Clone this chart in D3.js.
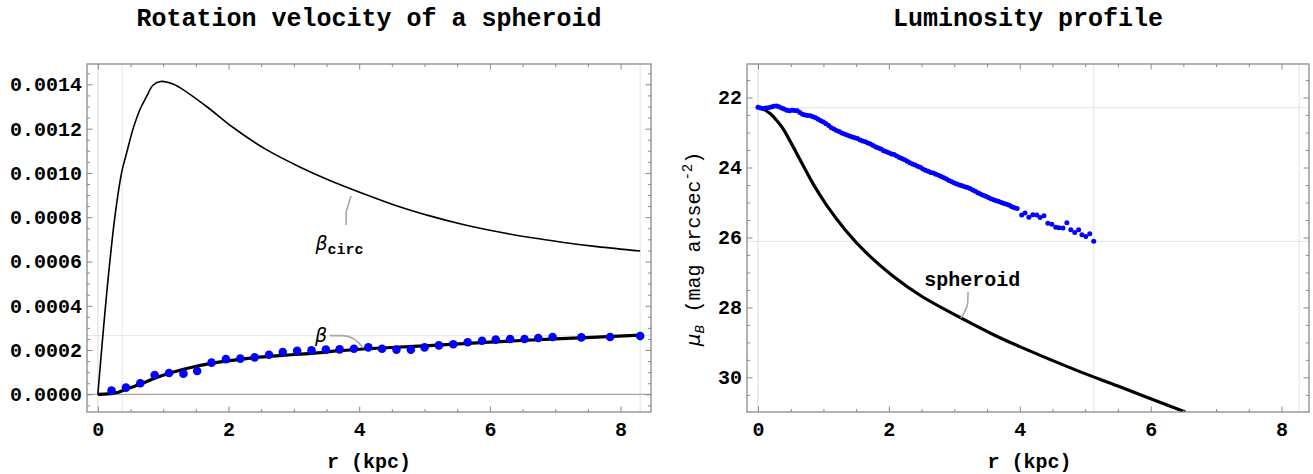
<!DOCTYPE html>
<html>
<head>
<meta charset="utf-8">
<script src="https://cdn.jsdelivr.net/npm/d3@7"></script>
<style>
	body { margin: 0; background: #fff; }
	svg text { font-family: "Courier New", "Liberation Mono", monospace; font-weight: bold; fill: #000; }
</style>
</head>
<body>
<svg id="chart" width="1313" height="474"></svg>
<script>
// ---- left panel: rotation velocity ----
var rotR = [0.21, 0.43, 0.65, 0.87, 1.09, 1.31, 1.52, 1.74, 1.96, 2.18, 2.40, 2.62, 2.83, 3.05, 3.27, 3.49, 3.70, 3.92,
	4.14, 4.35, 4.57, 4.79, 5.00, 5.22, 5.44, 5.66, 5.88, 6.09, 6.31, 6.53, 6.74, 6.96, 7.40, 7.84, 8.30];
var rotBeta = [0.0000166, 0.0000301, 0.0000497, 0.0000873, 0.0000963, 0.0000933, 0.000105, 0.000143, 0.000159,
	0.000161, 0.000167, 0.000179, 0.000191, 0.000197, 0.000199, 0.000202, 0.000203, 0.000206, 0.000212, 0.000206,
	0.000202, 0.000202, 0.000212, 0.000221, 0.000226, 0.000235, 0.000242, 0.000247, 0.000250, 0.000250, 0.000254,
	0.000259, 0.000257, 0.000259, 0.000263];

var circR = [0, 0.09, 0.14, 0.184, 0.26, 0.363, 0.44, 0.54, 0.65, 0.745, 0.84, 0.96, 1.15, 1.256, 1.664, 2.07,
	2.58, 3.09, 3.55, 4.06, 4.57, 5.08, 5.59, 6.1, 6.62, 7.13, 7.64, 8.3];
var circBeta = [0, 0.00031, 0.00047, 0.0006, 0.0008, 0.001, 0.00109, 0.0012, 0.00129, 0.001344, 0.001395,
	0.001413, 0.001402, 0.001385, 0.0013, 0.001205, 0.001105, 0.001027, 0.000966, 0.000907, 0.000852, 0.000806,
	0.000767, 0.000735, 0.000708, 0.000686, 0.000667, 0.000647];

var modelR = [0, 0.1, 0.2, 0.3, 0.434, 0.653, 0.87, 1.09, 1.31, 1.52, 1.74, 1.96, 2.4, 2.83, 3.27, 3.7, 4.2,
	5.0, 6.0, 7.0, 8.3];
var modelBeta = [0, 0.0000005, 0.000003, 0.000008, 0.0000226, 0.0000466, 0.0000722, 0.0000948, 0.000113,
	0.000128, 0.00014, 0.00015, 0.000166, 0.000176, 0.000185, 0.000197, 0.000207, 0.000219, 0.000236, 0.00025,
	0.000267];

var rotXTicks = [0, 2, 4, 6, 8];
var rotYTicks = [0, 0.0002, 0.0004, 0.0006, 0.0008, 0.0010, 0.0012, 0.0014];
var rotGridX = [0.37, 8.3];
var rotGridY = [0.000265];

// ---- right panel: luminosity profile ----
var lumR = [0.00, 0.04, 0.08, 0.12, 0.16, 0.20, 0.24, 0.28, 0.32, 0.36, 0.40, 0.44, 0.48, 0.52, 0.56, 0.60,
	0.64, 0.68, 0.72, 0.76, 0.80, 0.84, 0.88, 0.92, 0.96, 1.00, 1.04, 1.08, 1.12, 1.16, 1.20, 1.24, 1.28, 1.32,
	1.36, 1.40, 1.44, 1.48, 1.52, 1.56, 1.60, 1.64, 1.68, 1.72, 1.76, 1.80, 1.84, 1.88, 1.92, 1.96, 2.00, 2.04,
	2.08, 2.12, 2.16, 2.20, 2.24, 2.28, 2.32, 2.36, 2.40, 2.44, 2.48, 2.52, 2.56, 2.60, 2.64, 2.68, 2.72, 2.76,
	2.80, 2.84, 2.88, 2.92, 2.96, 3.00, 3.04, 3.08, 3.12, 3.16, 3.20, 3.24, 3.28, 3.32, 3.36, 3.40, 3.44, 3.48,
	3.52, 3.56, 3.60, 3.64, 3.68, 3.72, 3.76, 3.80, 3.84, 3.88, 3.92, 3.96,
	4.03, 4.08, 4.14, 4.20, 4.26, 4.31, 4.37, 4.43, 4.49, 4.55, 4.60, 4.66, 4.72, 4.78, 4.84, 4.90, 4.95, 5.01,
	5.07, 5.13];
var lumMu = [22.28, 22.30, 22.31, 22.30, 22.29, 22.27, 22.25, 22.24, 22.26, 22.30, 22.33, 22.36, 22.38, 22.36,
	22.37, 22.38, 22.43, 22.48, 22.50, 22.51, 22.52, 22.55, 22.58, 22.62, 22.66, 22.70, 22.75, 22.80, 22.86,
	22.90, 22.94, 22.97, 23.01, 23.04, 23.07, 23.10, 23.13, 23.15, 23.17, 23.21, 23.24, 23.26, 23.30, 23.33,
	23.37, 23.41, 23.44, 23.47, 23.52, 23.55, 23.58, 23.61, 23.63, 23.67, 23.71, 23.74, 23.78, 23.82, 23.86,
	23.90, 23.93, 23.96, 23.99, 24.04, 24.08, 24.11, 24.14, 24.16, 24.19, 24.22, 24.26, 24.29, 24.33, 24.37,
	24.41, 24.44, 24.47, 24.50, 24.52, 24.55, 24.57, 24.60, 24.64, 24.68, 24.72, 24.76, 24.79, 24.82, 24.86,
	24.89, 24.92, 24.95, 24.97, 25.00, 25.03, 25.05, 25.08, 25.12, 25.15, 25.17,
	25.36, 25.30, 25.42, 25.35, 25.36, 25.43, 25.38, 25.59, 25.62, 25.71, 25.72, 25.73, 25.58, 25.78, 25.86,
	25.78, 25.92, 25.97, 25.89, 26.11];

var sphR = [0, 0.08, 0.18, 0.28, 0.38, 0.48, 0.59, 0.70, 0.84, 1.05, 1.35, 1.66, 2.06, 2.5, 3.1, 3.6, 4.0,
	4.87, 5.5, 6.53];
var sphMu = [22.28, 22.33, 22.45, 22.64, 22.88, 23.21, 23.59, 23.98, 24.46, 25.08, 25.82, 26.45, 27.10, 27.68,
	28.30, 28.78, 29.12, 29.80, 30.25, 30.99];

var lumXTicks = [0, 2, 4, 6, 8];
var lumYTicks = [22, 24, 26, 28, 30];
var lumGridX = [5.13, 8.27];
var lumGridY = [22.29, 26.11];

(function() {
	var FRAME = "#8a8a8a";
	var GRID = "#e4e4e4";
	var svg = d3.select("#chart");

	var rotX = d3.scaleLinear().domain([-0.166, 8.466]).range([87, 651]);
	var rotY = d3.scaleLinear().domain([-0.0000799, 0.0014919]).range([412, 64]);
	var lumX = d3.scaleLinear().domain([-0.168, 8.42]).range([747, 1309]);
	var lumY = d3.scaleLinear().domain([21.04, 30.99]).range([64, 412]);

	function zip(xs, ys) {
		return xs.map(function(v, i) { return [v, ys[i]]; });
	}

	// pixel box of a panel, whichever way the y scale runs
	function box(x, y) {
		var ex = d3.extent(x.range()), ey = d3.extent(y.range());
		return { left: ex[0], right: ex[1], top: ey[0], bottom: ey[1] };
	}

	function clipFor(id, x, y) {
		var b = box(x, y);
		svg.append("clipPath").attr("id", id).append("rect")
			.attr("x", b.left).attr("y", b.top)
			.attr("width", b.right - b.left)
			.attr("height", b.bottom - b.top);
		return svg.append("g").attr("clip-path", "url(#" + id + ")");
	}

	function styleAxis(a) {
		a.attr("font-family", null).attr("font-size", null);
		a.select(".domain").remove();
		a.selectAll("line").attr("stroke", FRAME).attr("stroke-width", 1);
		a.selectAll("text").style("font-size", "20px");
		return a;
	}

	function drawFrame(x, y, xMajor, yMajor, xMinor, yMinor, yFmt) {
		var b = box(x, y);
		var g = svg.append("g");
		var noLabel = function() { return ""; };

		// bottom + top
		styleAxis(g.append("g").attr("transform", "translate(0," + b.bottom + ")")
			.call(d3.axisBottom(x).tickValues(xMajor).tickSize(-5.5).tickPadding(10).tickFormat(d3.format("d"))));
		styleAxis(g.append("g").attr("transform", "translate(0," + b.bottom + ")")
			.call(d3.axisBottom(x).tickValues(xMinor).tickSize(-3).tickFormat(noLabel)));
		styleAxis(g.append("g").attr("transform", "translate(0," + b.top + ")")
			.call(d3.axisTop(x).tickValues(xMajor).tickSize(-5.5).tickFormat(noLabel)));
		styleAxis(g.append("g").attr("transform", "translate(0," + b.top + ")")
			.call(d3.axisTop(x).tickValues(xMinor).tickSize(-3).tickFormat(noLabel)));

		// left + right
		styleAxis(g.append("g").attr("transform", "translate(" + b.left + ",0)")
			.call(d3.axisLeft(y).tickValues(yMajor).tickSize(-5.5).tickPadding(5).tickFormat(yFmt)));
		styleAxis(g.append("g").attr("transform", "translate(" + b.left + ",0)")
			.call(d3.axisLeft(y).tickValues(yMinor).tickSize(-3).tickFormat(noLabel)));
		styleAxis(g.append("g").attr("transform", "translate(" + b.right + ",0)")
			.call(d3.axisRight(y).tickValues(yMajor).tickSize(-5.5).tickFormat(noLabel)));
		styleAxis(g.append("g").attr("transform", "translate(" + b.right + ",0)")
			.call(d3.axisRight(y).tickValues(yMinor).tickSize(-3).tickFormat(noLabel)));

		g.append("rect")
			.attr("x", b.left).attr("y", b.top)
			.attr("width", b.right - b.left).attr("height", b.bottom - b.top)
			.attr("fill", "none").attr("stroke", FRAME).attr("stroke-width", 1.3);
	}

	function drawGrid(g, x, y, gx, gy) {
		var b = box(x, y);
		g.selectAll(null).data(gx).enter().append("line")
			.attr("x1", function(d) { return x(d); }).attr("x2", function(d) { return x(d); })
			.attr("y1", b.top).attr("y2", b.bottom)
			.attr("stroke", GRID).attr("stroke-width", 1);
		g.selectAll(null).data(gy).enter().append("line")
			.attr("y1", function(d) { return y(d); }).attr("y2", function(d) { return y(d); })
			.attr("x1", b.left).attr("x2", b.right)
			.attr("stroke", GRID).attr("stroke-width", 1);
	}

	function halfSteps(lo, hi, step, major) {
		return d3.range(lo, hi + 1e-9, step).filter(function(v) {
			return major.every(function(m) { return Math.abs(m - v) > 1e-9; });
		});
	}

	function callout(g, x, y, pts) {
		var p = pts.map(function(d) { return [x(d[0]), y(d[1])]; });
		var path = "M" + p[0] + "L" + p[1] + "Q" + p[2] + " " + p[3];
		g.append("path").attr("d", path)
			.attr("fill", "none").attr("stroke", "#a8a8a8").attr("stroke-width", 1.6);
	}

	// ============ left panel ============
	var gl = clipFor("clipL", rotX, rotY);
	var bl = box(rotX, rotY);
	drawGrid(gl, rotX, rotY, rotGridX, rotGridY);
	gl.append("line")
		.attr("x1", rotX(0)).attr("x2", rotX(0)).attr("y1", bl.top).attr("y2", bl.bottom)
		.attr("stroke", "#dadada");
	gl.append("line")
		.attr("x1", bl.left).attr("x2", bl.right).attr("y1", rotY(0)).attr("y2", rotY(0))
		.attr("stroke", "#a6a6a6").attr("stroke-width", 1.2);

	var lineRot = d3.line()
		.x(function(d) { return rotX(d[0]); })
		.y(function(d) { return rotY(d[1]); })
		.curve(d3.curveCatmullRom.alpha(0.5));

	gl.append("path").datum(zip(circR, circBeta)).attr("d", lineRot)
		.attr("fill", "none").attr("stroke", "#000").attr("stroke-width", 1.6);
	gl.append("path").datum(zip(modelR, modelBeta)).attr("d", lineRot)
		.attr("fill", "none").attr("stroke", "#000").attr("stroke-width", 3.2);
	gl.selectAll("circle.pt").data(zip(rotR, rotBeta)).enter().append("circle")
		.attr("class", "pt")
		.attr("cx", function(d) { return rotX(d[0]); })
		.attr("cy", function(d) { return rotY(d[1]); })
		.attr("r", 4.3).attr("fill", "#0000ff");

	// labels
	callout(svg, rotX, rotY, [[3.875, 0.000896], [3.80, 0.000824], [3.80, 0.000790], [3.80, 0.000765]]);
	callout(svg, rotX, rotY, [[3.55, 0.000265], [3.75, 0.000265], [3.935, 0.000263], [4.06, 0.000209]]);

	var tc = svg.append("text").attr("x", rotX(3.33)).attr("y", rotY(0.000650));
	tc.append("tspan").text("β")
		.style("font-family", "'DejaVu Sans', sans-serif").style("font-style", "italic")
		.style("font-weight", "normal").style("font-size", "19px");
	tc.append("tspan").text("circ").attr("dy", 4).style("font-size", "15px");

	svg.append("text").attr("x", rotX(3.415)).attr("y", rotY(0.000235)).attr("text-anchor", "middle")
		.text("β")
		.style("font-family", "'DejaVu Sans', sans-serif").style("font-style", "italic")
		.style("font-weight", "normal").style("font-size", "19px");

	drawFrame(rotX, rotY, rotXTicks, rotYTicks,
		halfSteps(0, 8, 0.5, rotXTicks), halfSteps(-0.00005, 0.00145, 0.00005, rotYTicks), d3.format(".4f"));

	svg.append("text").attr("x", 369).attr("y", 26).attr("text-anchor", "middle")
		.style("font-size", "25px").text("Rotation velocity of a spheroid");
	svg.append("text").attr("x", rotX(4.15)).attr("y", 468).attr("text-anchor", "middle")
		.style("font-size", "20px").text("r (kpc)");

	// ============ right panel ============
	var gr = clipFor("clipR", lumX, lumY);
	var br = box(lumX, lumY);
	drawGrid(gr, lumX, lumY, lumGridX, lumGridY);
	gr.append("line")
		.attr("x1", lumX(0)).attr("x2", lumX(0)).attr("y1", br.top).attr("y2", br.bottom)
		.attr("stroke", "#dadada");

	var lineLum = d3.line()
		.x(function(d) { return lumX(d[0]); })
		.y(function(d) { return lumY(d[1]); })
		.curve(d3.curveCatmullRom.alpha(0.5));

	gr.append("path").datum(zip(sphR, sphMu)).attr("d", lineLum)
		.attr("fill", "none").attr("stroke", "#000").attr("stroke-width", 3.2);
	gr.selectAll("circle.pt").data(zip(lumR, lumMu)).enter().append("circle")
		.attr("class", "pt")
		.attr("cx", function(d) { return lumX(d[0]); })
		.attr("cy", function(d) { return lumY(d[1]); })
		.attr("r", 2.5).attr("fill", "#0000ff");

	callout(svg, lumX, lumY, [[3.21, 27.55], [3.205, 27.87], [3.19, 28.07], [3.10, 28.30]]);
	svg.append("text").attr("x", lumX(3.275)).attr("y", lumY(27.22) + 6).attr("text-anchor", "middle")
		.style("font-size", "20px").text("spheroid");

	drawFrame(lumX, lumY, lumXTicks, lumYTicks,
		halfSteps(0, 8, 0.5, lumXTicks), halfSteps(21.5, 30.5, 0.5, lumYTicks), d3.format("d"));

	svg.append("text").attr("x", 1028).attr("y", 26).attr("text-anchor", "middle")
		.style("font-size", "25px").text("Luminosity profile");
	svg.append("text").attr("x", lumX(4.15)).attr("y", 468).attr("text-anchor", "middle")
		.style("font-size", "20px").text("r (kpc)");

	var yl = svg.append("text").attr("transform", "translate(700,249) rotate(-90)")
		.attr("text-anchor", "middle").style("font-size", "20px").style("font-weight", "normal");
	yl.append("tspan").text("μ")
		.style("font-family", "'DejaVu Sans', sans-serif").style("font-style", "italic");
	yl.append("tspan").text("B").attr("dy", 4)
		.style("font-family", "'DejaVu Sans', sans-serif").style("font-style", "italic")
		.style("font-size", "13px");
	yl.append("tspan").text("\u00a0(mag arcsec").attr("dy", -4);
	yl.append("tspan").text("-2").attr("dy", -8).style("font-size", "14px");
	yl.append("tspan").text(")").attr("dy", 8);
}());
</script>
</body>
</html>
